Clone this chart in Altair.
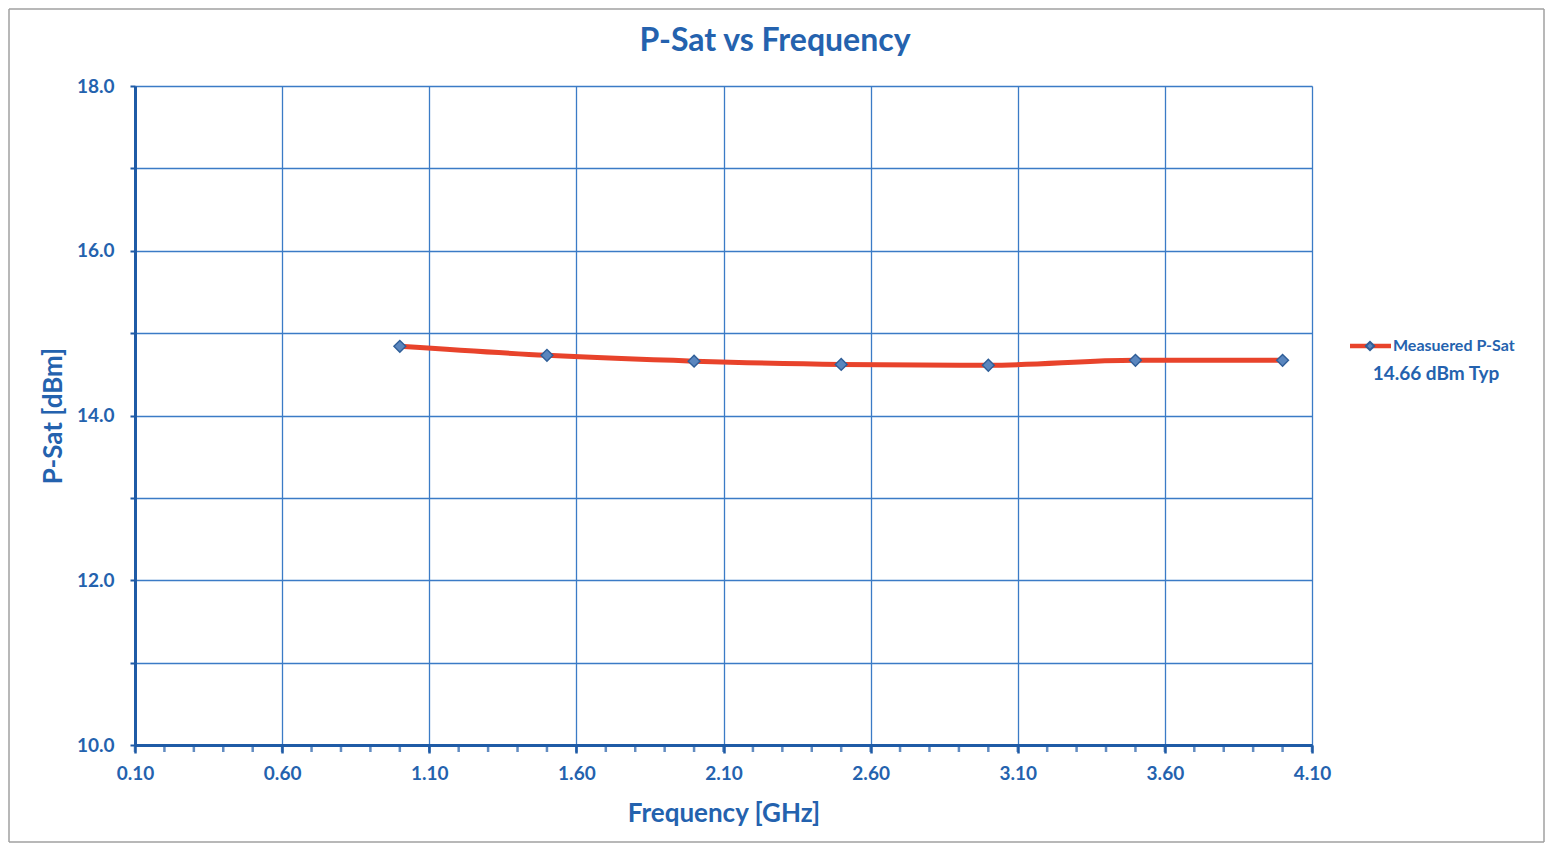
import altair as alt
import pandas as pd

freq_ghz = [1.0, 1.5, 2.0, 2.5, 3.0, 3.5, 4.0]
psat_dbm = [14.84, 14.73, 14.66, 14.62, 14.61, 14.67, 14.67]
x_major = [0.10, 0.60, 1.10, 1.60, 2.10, 2.60, 3.10, 3.60, 4.10]
x_minor = [round(0.1 + 0.1 * i, 2) for i in range(41)]
y_ticks = [10, 11, 12, 13, 14, 15, 16, 17, 18]
series_name = "Measuered P-Sat"
note = "14.66 dBm Typ"
title_text = "P-Sat vs Frequency"

BLUE = "#2462AE"
GRID = "#3B7BC6"
FONT = "Lato"

df = pd.DataFrame({"f": freq_ghz, "p": psat_dbm})
one = pd.DataFrame({"a": [0]})

W, H = 1177, 659
PL, PT, PR, PB = 127, 78, 233, 98

xs = alt.Scale(domain=[0.1, 4.1], nice=False, zero=False)
ys = alt.Scale(domain=[10, 18], nice=False, zero=False)

x_axis = alt.Axis(values=x_major, format=".2f", title="Frequency [GHz]",
                  grid=True, gridColor=GRID, gridWidth=1.3, gridOpacity=1,
                  domainColor="#1F5BA6", domainWidth=3, tickColor="#1F5BA6",
                  tickWidth=2.5, tickSize=8, labelPadding=11, titlePadding=17,
                  labelFlush=False, labelOverlap=False,
                  labelFont=FONT, labelFontSize=19, labelFontWeight="bold", labelColor=BLUE,
                  titleFont=FONT, titleFontSize=26, titleFontWeight="bold", titleColor=BLUE)
y_axis = alt.Axis(values=y_ticks, title="P-Sat [dBm]",
                  labelExpr="datum.value % 2 == 0 ? format(datum.value, '.1f') : ''",
                  grid=True, gridColor=GRID, gridWidth=1.3, gridOpacity=1,
                  domainColor="#1F5BA6", domainWidth=3, tickColor="#1F5BA6",
                  tickWidth=2, tickSize=5, labelPadding=16, titlePadding=10,
                  labelFlush=False, labelOverlap=False,
                  labelFont=FONT, labelFontSize=19, labelFontWeight="bold", labelColor=BLUE,
                  titleFont=FONT, titleFontSize=26, titleFontWeight="bold", titleColor=BLUE)

line = alt.Chart(df).mark_line(color="#E8432B", strokeWidth=5, interpolate="monotone").encode(
    x=alt.X("f:Q", scale=xs, axis=x_axis),
    y=alt.Y("p:Q", scale=ys, axis=y_axis),
)
pts = alt.Chart(df).mark_point(shape="diamond", filled=True, size=140, color="#5A86BE",
                               stroke="#2F5E98", strokeWidth=1.4, opacity=1).encode(
    x=alt.X("f:Q", scale=xs), y=alt.Y("p:Q", scale=ys))

minor = alt.Chart(pd.DataFrame({"m": x_minor})).mark_tick(
    color="#1F5BA6", thickness=2.5, size=7, orient="vertical").encode(
    x=alt.X("m:Q", scale=xs),
    y=alt.value(H + 3.5),
)

# legend (manual)
leg_line = alt.Chart(one).mark_rule(color="#E8432B", strokeWidth=4.5).encode(
    x=alt.value(1215), x2=alt.value(1256), y=alt.value(260))
leg_pt = alt.Chart(one).mark_point(shape="diamond", filled=True, size=70, color="#5A86BE",
                                   stroke="#2F5E98", opacity=1).encode(
    x=alt.value(1235), y=alt.value(260))
leg_txt = alt.Chart(one).mark_text(align="left", baseline="middle", font=FONT, fontSize=16,
                                   fontWeight="bold", color=BLUE).encode(
    x=alt.value(1258), y=alt.value(260), text=alt.value(series_name))
note_txt = alt.Chart(one).mark_text(align="center", baseline="middle", font=FONT, fontSize=19,
                                    fontWeight="bold", color=BLUE).encode(
    x=alt.value(1301), y=alt.value(288), text=alt.value(note))
title_mark = alt.Chart(one).mark_text(align="center", baseline="middle", font=FONT, fontSize=32,
                                      fontWeight="bold", color=BLUE).encode(
    x=alt.value(640), y=alt.value(-45), text=alt.value(title_text))

# outer frame (four rules, just inside the drawing area)
BL, BR, BT, BB = -PL + 1, W + PR - 1, -PT + 1, H + PB - 1
frame_style = dict(color="#A0A0A0", strokeWidth=1.5)
f1 = alt.Chart(one).mark_rule(**frame_style).encode(x=alt.value(BL), x2=alt.value(BR), y=alt.value(BT))
f2 = alt.Chart(one).mark_rule(**frame_style).encode(x=alt.value(BL), x2=alt.value(BR), y=alt.value(BB))
f3 = alt.Chart(one).mark_rule(**frame_style).encode(x=alt.value(BL), y=alt.value(BT), y2=alt.value(BB))
f4 = alt.Chart(one).mark_rule(**frame_style).encode(x=alt.value(BR), y=alt.value(BT), y2=alt.value(BB))

chart = alt.layer(f1, f2, f3, f4, minor, line, pts, leg_line, leg_pt, leg_txt, note_txt,
                  title_mark).properties(
    width=W, height=H,
    autosize=alt.AutoSizeParams(type="none"),
    padding={"left": PL, "top": PT, "right": PR, "bottom": PB},
).configure_view(stroke=GRID, strokeWidth=1.3).configure(background="white")

chart.save("out.html", embed_options={"renderer": "svg", "actions": False})
